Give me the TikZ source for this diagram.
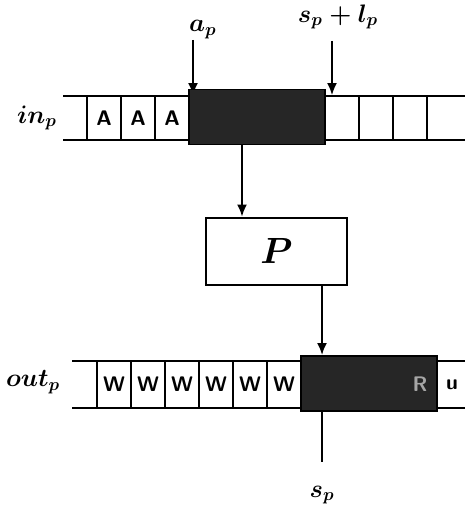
\documentclass[tikz,border=0pt]{standalone}
\usepackage{amsmath}
\usepackage{bm}
\usepackage{xcolor}
\usepackage{tikz}
\usetikzlibrary{arrows.meta,positioning}

\begin{document}
\begin{tikzpicture}[
    cell/.style={draw, line width=1.1pt, minimum width=6.8mm, minimum height=8.8mm,
                 inner sep=0pt, font=\large\sffamily\bfseries},
    ocell/.style={cell, minimum height=9.4mm},
    window/.style={draw, line width=1.1pt, fill=black!85, inner sep=0pt,
                 minimum width=27.2mm, minimum height=11mm},
    procbox/.style={draw, line width=1.6pt, minimum width=28.2mm, minimum height=13.4mm,
                 font=\huge\boldmath},
    tapelbl/.style={font=\Large\boldmath},
    ptrlbl/.style={font=\Large\boldmath},
    tapeline/.style={line width=1.1pt},
    flow/.style={-{Latex[length=2.4mm,width=2mm]}, line width=1.1pt},
    ptr/.style={-{Latex[length=2.4mm,width=2mm]}, line width=0.9pt}
]
\useasboundingbox (0,0) rectangle (9.3,10.2);

% ---------- input tape ----------
\node[tapelbl] (inlbl) at (0.74,7.84) {$in_p$};
\draw[tapeline] (1.26,8.28) -- (9.3,8.28);
\draw[tapeline] (1.26,7.40) -- (9.3,7.40);
\node[cell] (inA) at (2.08,7.84) {A};
\node[cell] (inB) at (2.76,7.84) {A};
\node[cell] (inC) at (3.44,7.84) {A};

% pointer to the window start (drawn under the window)
\coordinate (aptail) at (3.86,9.40);
\node[ptrlbl, above right=-1mm and -2mm of aptail] (aplbl) {$a_p$};
\draw[ptr] (aptail) -- (aptail |- inA.north);

\node[window] (inwin) at (5.14,7.86) {};
\node[cell] (inD) at (6.84,7.84) {};
\node[cell] (inE) at (7.52,7.84) {};
\node[cell] (inF) at (8.20,7.84) {};

% pointer past the window
\coordinate (sltail) at (6.64,9.38);
\node[ptrlbl] (sllbl) at (6.76,9.86) {$s_p + l_p$};
\draw[ptr] (sltail) -- (sltail |- inD.north);

% ---------- process ----------
\node[procbox] (proc) at (5.53,5.17) {$P$};
\draw[flow] ([xshift=-3mm]inwin.south) -- ([xshift=-3mm]inwin.south |- proc.north);

% ---------- output tape ----------
\node[tapelbl] (outlbl) at (0.66,2.56) {$out_p$};
\draw[tapeline] (1.44,2.98) -- (9.3,2.98);
\draw[tapeline] (1.44,2.04) -- (9.3,2.04);
\node[ocell] (outA) at (2.28,2.51) {W};
\node[ocell] (outB) at (2.96,2.51) {W};
\node[ocell] (outC) at (3.64,2.51) {W};
\node[ocell] (outD) at (4.32,2.51) {W};
\node[ocell] (outE) at (5.00,2.51) {W};
\node[ocell] (outF) at (5.68,2.51) {W};
\node[window] (outwin) at (7.38,2.53) {};
\node[font=\large\sffamily\bfseries, text=black!35] (outR) at (8.40,2.51) {R};
\node[font=\large\sffamily\bfseries] (outu) at (9.04,2.51) {u};
\draw[flow] ([xshift=9.1mm]proc.south) -- ([xshift=9.1mm]proc.south |- outwin.north);

% pointer out of the output tape
\coordinate (sptail) at (6.44,0.96);
\node[ptrlbl] (splbl) at (6.44,0.30) {$s_p$};
\draw[line width=0.9pt] (sptail) -- (sptail |- outwin.south);

\end{tikzpicture}
\end{document}
